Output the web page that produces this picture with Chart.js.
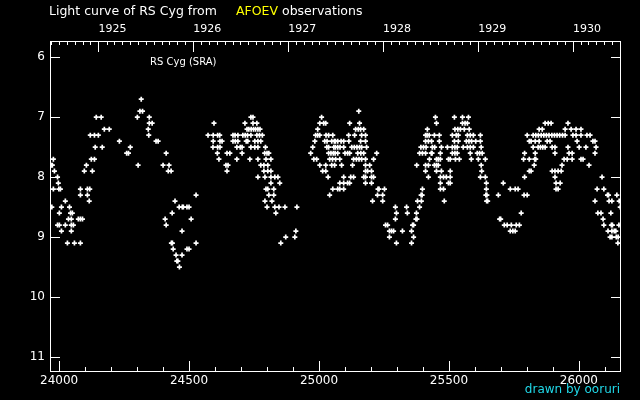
<!DOCTYPE html>
<html>
<head>
<meta charset="utf-8">
<script src="https://cdn.jsdelivr.net/npm/chart.js@4/dist/chart.umd.min.js"></script>
<style>
  html, body { margin: 0; background: #000; }
  #wrap { width: 640px; height: 400px; }
</style>
</head>
<body>
<div id="wrap"><canvas id="chart" width="640" height="400"></canvas></div>
<script>
// axis ranges (JD - 2400000, visual magnitude)
const jdMin = 23965, jdMax = 26162;
const magMin = 5.73, magMax = 11.25;
const jdTicks = [24000, 24500, 25000, 25500, 26000];
const magTicks = [6, 7, 8, 9, 10, 11];
const years = [1925, 1926, 1927, 1928, 1929, 1930];

// observations, grouped by magnitude row: [mag, [JD...]]
// JD 23965 - 24330
const obsA = [
  [6.7, [24316]],
  [6.9, [24311, 24321]],
  [7.0, [24143, 24162, 24301]],
  [7.2, [24174, 24193]],
  [7.3, [24120, 24136, 24151]],
  [7.4, [24232]],
  [7.5, [24139, 24166, 24274]],
  [7.6, [24260, 24267]],
  [7.7, [23978, 24124, 24136]],
  [7.8, [23969, 23974, 24105, 24304]],
  [7.9, [23982, 24097, 24128]],
  [8.0, [23994]],
  [8.1, [23997]],
  [8.2, [23978, 23999, 24005, 24082, 24109, 24118]],
  [8.3, [24082, 24109]],
  [8.4, [24024, 24116]],
  [8.5, [23972, 24009, 24040]],
  [8.6, [24001, 24044, 24051]],
  [8.7, [24036, 24047, 24074, 24082, 24090]],
  [8.8, [23994, 24001, 24024, 24047, 24055]],
  [8.9, [24009, 24047]],
  [9.1, [24032, 24059, 24082]]
];
// JD 24330 - 24695
const obsB = [
  [7.0, [24347]],
  [7.1, [24347, 24358, 24596]],
  [7.2, [24343]],
  [7.3, [24345, 24573, 24593, 24610, 24618, 24669, 24677, 24688]],
  [7.4, [24373, 24381, 24593, 24619, 24627, 24669, 24678, 24688]],
  [7.5, [24592, 24610, 24619, 24684, 24697]],
  [7.6, [24412, 24609, 24646, 24657]],
  [7.7, [24615, 24684]],
  [7.8, [24400, 24423, 24642, 24650]],
  [7.9, [24420, 24431, 24646]],
  [8.3, [24527]],
  [8.4, [24446]],
  [8.5, [24462, 24474, 24478, 24492, 24500]],
  [8.6, [24435]],
  [8.7, [24408, 24508]],
  [8.8, [24412]],
  [8.9, [24473]],
  [9.1, [24432, 24436, 24527]],
  [9.2, [24439, 24492, 24500]],
  [9.3, [24450, 24473]],
  [9.4, [24453, 24457]],
  [9.5, [24463]]
];
// JD 24695 - 25059
const obsC = [
  [7.0, [24738, 24746, 25010]],
  [7.1, [24715, 24746, 24761, 25003, 25018, 25026]],
  [7.2, [24723, 24730, 24739, 24748, 24756, 24765, 24773, 24995]],
  [7.3, [24707, 24716, 24725, 24738, 24761, 24771, 24782, 24987, 24995, 25003, 25027, 25037, 25053]],
  [7.4, [24720, 24726, 24753, 24765, 24776, 24984, 25022, 25031, 25049, 25059]],
  [7.5, [24704, 24738, 24753, 24765, 24794, 24976, 25030, 25037, 25057]],
  [7.6, [24704, 24791, 24800, 24807, 24968, 25037, 25046, 25055, 25062]],
  [7.7, [24734, 24765, 24796, 24815, 24980, 24991, 25041, 25052]],
  [7.8, [24776, 24788, 24803, 25003, 25026, 25049, 25060]],
  [7.9, [24788, 24803, 24815, 25014, 25026]],
  [8.0, [24765, 24792, 24815, 24830, 24842, 25035]],
  [8.1, [24815, 24849]],
  [8.2, [24796, 24803, 24826, 25053]],
  [8.3, [24807, 24826, 25041]],
  [8.4, [24792, 24819]],
  [8.5, [24800, 24830, 24846, 24869, 24915]],
  [8.6, [24834]],
  [8.9, [24911]],
  [9.0, [24872, 24907]],
  [9.1, [24853]]
];
// JD 25059 - 25424
const obsD = [
  [6.9, [25153]],
  [7.1, [25118, 25156]],
  [7.2, [25141, 25151, 25160, 25172, 25417]],
  [7.3, [25114, 25137, 25164, 25179, 25410, 25416]],
  [7.4, [25063, 25072, 25085, 25095, 25115, 25160, 25179, 25410, 25421]],
  [7.5, [25063, 25072, 25081, 25095, 25126, 25136, 25146, 25156, 25164, 25183, 25392, 25402, 25412]],
  [7.6, [25072, 25100, 25110, 25118, 25149, 25161, 25172, 25222, 25387, 25398, 25410]],
  [7.7, [25064, 25080, 25133, 25144, 25154, 25164, 25179, 25210, 25425]],
  [7.8, [25087, 25129, 25179, 25195, 25376, 25410, 25421]],
  [7.9, [25179, 25187, 25202, 25410]],
  [8.0, [25095, 25122, 25133, 25172, 25179, 25202, 25210, 25421]],
  [8.1, [25080, 25095, 25110, 25118, 25179, 25202]],
  [8.2, [25072, 25080, 25095, 25227, 25231, 25252, 25398]],
  [8.3, [25225, 25245, 25393, 25397]],
  [8.4, [25206, 25245, 25379, 25394]],
  [8.5, [25294, 25337, 25387]],
  [8.6, [25298, 25340, 25375]],
  [8.7, [25294, 25373, 25377]],
  [8.8, [25256, 25264, 25360, 25364]],
  [8.9, [25271, 25279, 25287, 25321, 25356]],
  [9.0, [25271, 25364]],
  [9.1, [25298, 25356]]
];
// JD 25424 - 25790
const obsE = [
  [7.0, [25448, 25521, 25552, 25575]],
  [7.1, [25452, 25552, 25562, 25571]],
  [7.2, [25523, 25534, 25544, 25559, 25578]],
  [7.3, [25424, 25444, 25463, 25513, 25528, 25536, 25571, 25582, 25594, 25621]],
  [7.4, [25433, 25463, 25521, 25536, 25567, 25577, 25587, 25603, 25621]],
  [7.5, [25436, 25445, 25471, 25494, 25513, 25523, 25532, 25555, 25571, 25582, 25594, 25624]],
  [7.6, [25432, 25435, 25467, 25513, 25523, 25532, 25582, 25609, 25618, 25628, 25791]],
  [7.7, [25452, 25459, 25467, 25498, 25505, 25525, 25540, 25586, 25613, 25640, 25787]],
  [7.8, [25444, 25452, 25459, 25624]],
  [7.9, [25452, 25471, 25505, 25626]],
  [8.0, [25467, 25479, 25490, 25505, 25621, 25640, 25791]],
  [8.1, [25467, 25498, 25505, 25644, 25709]],
  [8.2, [25467, 25479, 25644, 25736, 25755, 25766]],
  [8.3, [25642, 25646, 25690, 25789]],
  [8.4, [25482, 25645, 25649]],
  [8.6, [25778]],
  [8.7, [25695, 25699]],
  [8.8, [25713, 25724, 25740, 25759, 25771]],
  [8.9, [25736, 25746, 25755]]
];
// JD 25790 - 26162
const obsF = [
  [7.1, [25870, 25882, 25893, 25958]],
  [7.2, [25847, 25859, 25947, 25970, 25989, 26008]],
  [7.3, [25801, 25824, 25834, 25844, 25855, 25865, 25875, 25885, 25896, 25906, 25916, 25926, 25937, 25947, 25977, 25989, 26008, 26031, 26043]],
  [7.4, [25809, 25816, 25832, 25847, 25878, 25889, 25993, 26054, 26062]],
  [7.5, [25824, 25843, 25852, 25861, 25870, 25897, 25908, 25958, 26001, 26027, 26066]],
  [7.6, [25832, 25908, 25962, 25974, 26062]],
  [7.7, [25809, 25830, 25834, 25943, 25955, 25974, 26008, 26016]],
  [7.8, [25828, 25935, 26039]],
  [7.9, [25809, 25816, 25897, 25908, 25920, 25932]],
  [8.0, [25908, 26089]],
  [8.1, [25912, 25928]],
  [8.2, [25912, 25920, 26070, 26096]],
  [8.3, [25801, 26110, 26114, 26146]],
  [8.4, [26062, 26116, 26127, 26155]],
  [8.5, [26159]],
  [8.6, [26073, 26085, 26123]],
  [8.7, [26093]],
  [8.8, [26096, 26125, 26129, 26154]],
  [8.9, [26112, 26127, 26136, 26142]],
  [9.0, [26120, 26127, 26144, 26151]],
  [9.1, [26150]]
];

const points = [obsA, obsB, obsC, obsD, obsE, obsF]
  .flat()
  .flatMap(([mag, jds]) => jds.map(jd => ({ x: jd, y: mag })));

// calendar -> JD-2400000
const jdOf = (y, m) => Date.UTC(y, m, 1) / 86400000 + 40587.5;
const yearJD = years.map(y => jdOf(y, 0));
const monthJD = [];
for (let y = 1924; y <= 1931; y++) {
  for (let m = 0; m < 12; m++) {
    const v = jdOf(y, m);
    if (v > jdMin && v < jdMax) monthJD.push(v);
  }
}
const minorJD = [];
for (let v = 24000; v < jdMax; v += 100) minorJD.push(v);

// frame, inward tick marks, title and notes
const framePlugin = {
  id: 'frame',
  afterDraw(chart) {
    const { ctx, chartArea: a, scales } = chart;
    const x = scales.x, y = scales.y;
    ctx.save();
    ctx.strokeStyle = '#fff';
    ctx.lineWidth = 1;
    ctx.strokeRect(Math.round(a.left) + 0.5, Math.round(a.top) + 0.5,
      Math.round(a.right - a.left) - 1, Math.round(a.bottom - a.top) - 1);
    const tick = (x1, y1, x2, y2) => {
      ctx.beginPath(); ctx.moveTo(x1, y1); ctx.lineTo(x2, y2); ctx.stroke();
    };
    // bottom
    minorJD.forEach(v => {
      const px = Math.round(x.getPixelForValue(v)) + 0.5;
      const len = v % 500 === 0 ? 11 : 5;
      tick(px, a.bottom, px, a.bottom - len);
    });
    // top
    monthJD.forEach(v => {
      const px = Math.round(x.getPixelForValue(v)) + 0.5;
      const len = yearJD.includes(v) ? 11 : 4;
      tick(px, a.top, px, a.top + len);
    });
    // left / right
    magTicks.forEach(v => {
      const py = Math.round(y.getPixelForValue(v)) + 0.5;
      tick(a.left, py, a.left + 10, py);
      tick(a.right, py, a.right - 10, py);
    });
    // title
    ctx.textBaseline = 'middle';
    ctx.textAlign = 'left';
    ctx.font = '12.5px "DejaVu Sans"';
    ctx.fillStyle = '#fff';
    ctx.fillText('Light curve of RS Cyg from', 49, 12);
    ctx.fillStyle = '#ffff00';
    ctx.fillText('AFOEV', 236, 12);
    ctx.fillStyle = '#fff';
    ctx.fillText('observations', 282, 12);
    ctx.font = '10px "DejaVu Sans"';
    ctx.fillText('RS Cyg (SRA)', 150, 62);
    ctx.font = '12px "DejaVu Sans"';
    ctx.fillStyle = '#20d8e8';
    ctx.textAlign = 'right';
    ctx.fillText('drawn by ooruri', 620, 390);
    ctx.restore();
  }
};

const tickFont = { family: 'DejaVu Sans', size: 12 };

new Chart(document.getElementById('chart'), {
  type: 'scatter',
  data: {
    datasets: [{
      data: points,
      pointStyle: 'cross',
      radius: 2.5,
      borderWidth: 1.7,
      borderColor: '#fff',
      backgroundColor: '#fff'
    }]
  },
  options: {
    responsive: false,
    animation: false,
    events: [],
    layout: { padding: { left: 0, right: 19, top: 0, bottom: 0 } },
    plugins: { legend: { display: false }, tooltip: { enabled: false } },
    scales: {
      x: {
        type: 'linear', position: 'bottom', min: jdMin, max: jdMax,
        grid: { display: false, drawTicks: false },
        border: { display: false },
        afterBuildTicks: s => { s.ticks = jdTicks.map(v => ({ value: v })); },
        afterFit: s => { s.height = 28; },
        ticks: {
          color: '#fff', font: tickFont, padding: 2, maxRotation: 0, autoSkip: false,
          callback: v => String(v)
        }
      },
      x2: {
        type: 'linear', position: 'top', min: jdMin, max: jdMax,
        grid: { display: false, drawTicks: false },
        border: { display: false },
        afterBuildTicks: s => { s.ticks = yearJD.map(v => ({ value: v })); },
        afterFit: s => { s.height = 41; },
        ticks: {
          color: '#fff', font: { family: 'DejaVu Sans', size: 11 }, padding: 5,
          align: 'start', maxRotation: 0, autoSkip: false,
          callback: (v, i) => String(years[i])
        }
      },
      y: {
        type: 'linear', reverse: true, min: magMin, max: magMax,
        grid: { display: false, drawTicks: false },
        border: { display: false },
        afterBuildTicks: s => { s.ticks = magTicks.map(v => ({ value: v })); },
        afterFit: s => { s.width = 50; },
        ticks: { color: '#fff', font: tickFont, padding: 5 }
      }
    }
  },
  plugins: [framePlugin]
});
</script>
</body>
</html>
